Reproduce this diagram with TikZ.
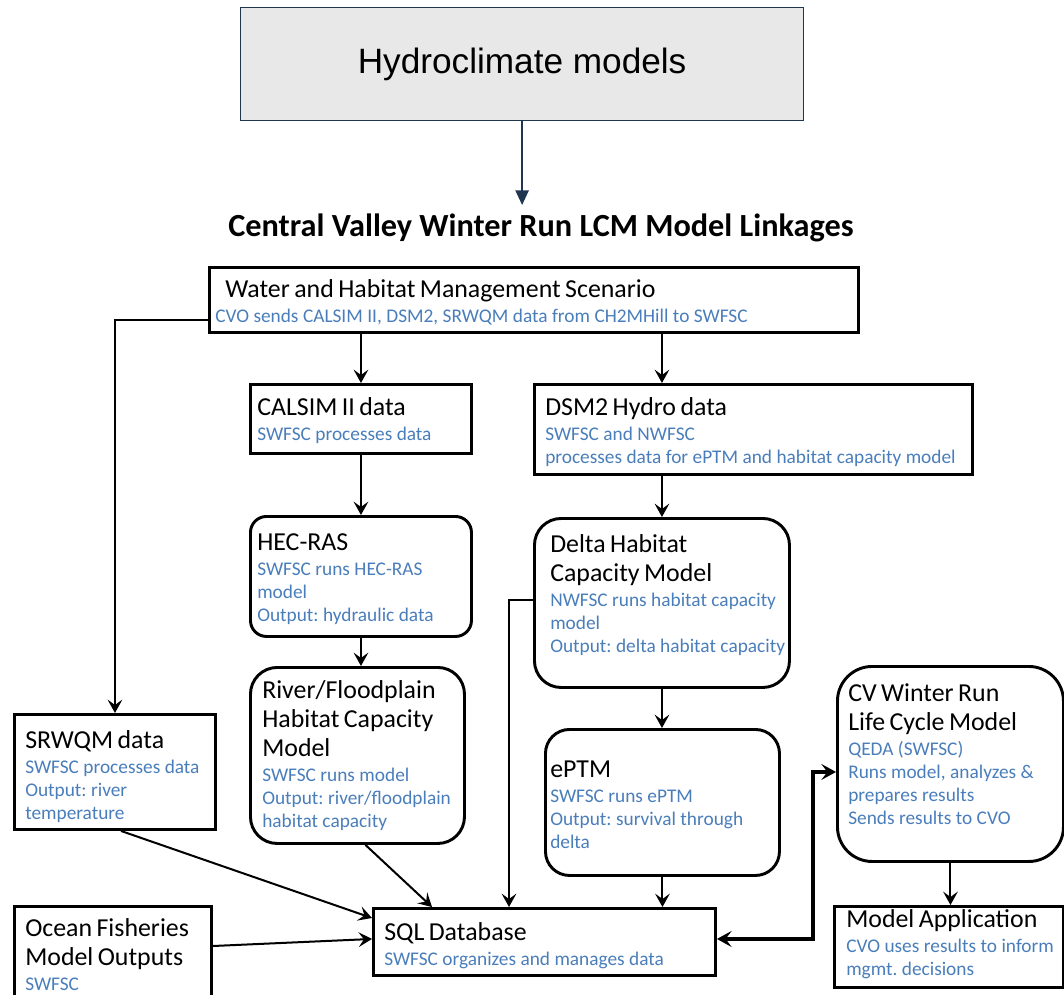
\documentclass[tikz,border=0pt]{standalone}
\usepackage{fontspec}
\setmainfont{Carlito}
\newfontfamily\hydrofont{Liberation Sans}
\usetikzlibrary{arrows.meta,calc}
\definecolor{cvblue}{HTML}{4A7EBB}
\definecolor{navy}{HTML}{1F3550}
\definecolor{hgray}{HTML}{E8E8E8}
\def\u{0.75pt}
\frenchspacing
% box by corners: name, x1, y1, x2, y2, style
\newcommand\bx[6]{\node[#6, minimum width={(#4-#2)*\u}, minimum height={(#5-#3)*\u}, anchor=north west, inner sep=0pt] (#1) at (#2,#3) {};}
% text block: name, x, first baseline, black lines, blue lines
\newcommand\tx[5]{\node[anchor=base west, inner sep=0pt, text width=700*\u, align=left] (#1) at (#2,#3) {\frenchspacing\fontsize{19.4}{21.75}\selectfont #4\par\vspace{1.5pt}\fontsize{14.5}{17.25}\selectfont\color{cvblue}#5\par};}
\begin{document}
\begin{tikzpicture}[x=0.75pt,y=-0.75pt,
  sq/.style={draw=black, line width=2.2pt},
  rnd/.style={draw=black, line width=2.2pt, rounded corners=#1},
  arr/.style={line width=1.5pt, -{Stealth[length=10pt,width=11pt,inset=4pt]}},
  dbl/.style={line width=3pt, {Stealth[length=11pt,width=12pt,inset=4.5pt]}-{Stealth[length=11pt,width=12pt,inset=4.5pt]}}]
\clip (0,0) rectangle (1064,995);
\fill[white] (0,0) rectangle (1064,995);
% top part
\bx{hydro}{240}{7}{803}{120}{draw=navy, line width=0.9pt, fill=hgray}
\node[font=\hydrofont\fontsize{26.4}{30}\selectfont] (hydroT) at (hydro.center) {Hydroclimate models};
\node[font=\bfseries\fontsize{24.2}{28}\selectfont, anchor=base, inner sep=0pt] (title) at (541,237) {Central Valley Winter Run LCM Model Linkages};
\draw[navy, line width=1.1pt, -{Triangle[length=11pt,width=10pt]}] (hydro.south) -- (hydro.south |- 0,205) coordinate (htip);
% boxes
\bx{water}{208}{266}{857}{331}{sq}
\bx{calsim}{249}{383}{470}{452}{sq}
\bx{dsm}{533}{383}{971}{473}{sq}
\bx{hec}{249}{515}{470}{635}{rnd=12pt}
\bx{delta}{533}{517}{788}{686}{rnd=20pt}
\bx{river}{249}{666}{463}{842}{rnd=20pt}
\bx{srwqm}{13}{713}{214}{828}{sq}
\bx{eptm}{544}{728}{778}{874}{rnd=18pt}
\bx{cv}{836}{665}{1062}{860}{rnd=26pt}
\bx{sql}{372}{907}{714}{974}{sq}
\bx{app}{833}{905}{1062}{986}{sq}
\bx{ocean}{13}{905}{210}{1010}{sq}
% texts
\tx{waterT}{225}{297}{Water and Habitat Management Scenario}{\hspace*{-7.5pt}CVO sends CALSIM II, DSM2, SRWQM data from CH2MHill to SWFSC}
\tx{calsimT}{257}{415}{CALSIM II data}{SWFSC processes data}
\tx{dsmT}{545}{415}{DSM2 Hydro data}{SWFSC and NWFSC\\processes data for ePTM and habitat capacity model}
\tx{hecT}{257}{550}{HEC-RAS}{SWFSC runs HEC-RAS\\model\\Output: hydraulic data}
\tx{deltaT}{550}{552}{Delta Habitat\\Capacity Model}{NWFSC runs habitat capacity\\model\\Output: delta habitat capacity}
\tx{riverT}{262}{698}{River/Floodplain\\Habitat Capacity\\Model}{SWFSC runs model\\Output: river/floodplain\\habitat capacity}
\tx{srwqmT}{25}{748}{SRWQM data}{SWFSC processes data\\Output: river\\temperature}
\tx{eptmT}{550}{777}{ePTM}{SWFSC runs ePTM\\Output: survival through\\delta}
\tx{cvT}{848}{701}{CV Winter Run\\Life Cycle Model}{QEDA (SWFSC)\\Runs model, analyzes \&\\prepares results\\Sends results to CVO}
\tx{sqlT}{384}{940}{SQL Database}{SWFSC organizes and manages data}
\tx{oceanT}{25}{936}{Ocean Fisheries\\Model Outputs}{SWFSC}
\tx{appT}{846}{927}{Model Application}{CVO uses results to inform\\mgmt. decisions}
% connectors
\draw[arr] (water.south -| calsim.north) -- (calsim.north);
\draw[arr] (water.south -| delta.north) -- (dsm.north -| delta.north);
\draw[arr] (calsim.south) -- (calsim.south |- hec.north);
\draw[arr] (hec.south) -- (hec.south |- river.north);
\draw[arr] (dsm.south -| delta.north) -- (delta.north);
\draw[arr] (delta.south) -- (delta.south |- eptm.north);
\draw[arr] (eptm.south) -- (eptm.south |- sql.north);
\draw[arr] ($(water.south west)+(0,-14)$) -| (srwqm.north);
\draw[arr] ($(delta.west)+(0,-3)$) -- ++(-24,0) coordinate (dj) -- (dj |- sql.north);
\draw[arr] ($(srwqm.south)+(6,0)$) -- ($(sql.north west)+(0,11)$);
\draw[arr] ($(river.south)+(8,0)$) -- ($(sql.north west)+(60,0)$);
\draw[arr] ($(ocean.north east)+(0,41)$) -- ($(sql.west)+(0,-3)$);
\draw[dbl] ($(sql.east)+(0,-3)$) -- ++(96,0) coordinate (sj) |- ($(cv.west)+(0,8)$);
\draw[arr] (cv.south) -- (cv.south |- app.north);
\end{tikzpicture}
\end{document}
